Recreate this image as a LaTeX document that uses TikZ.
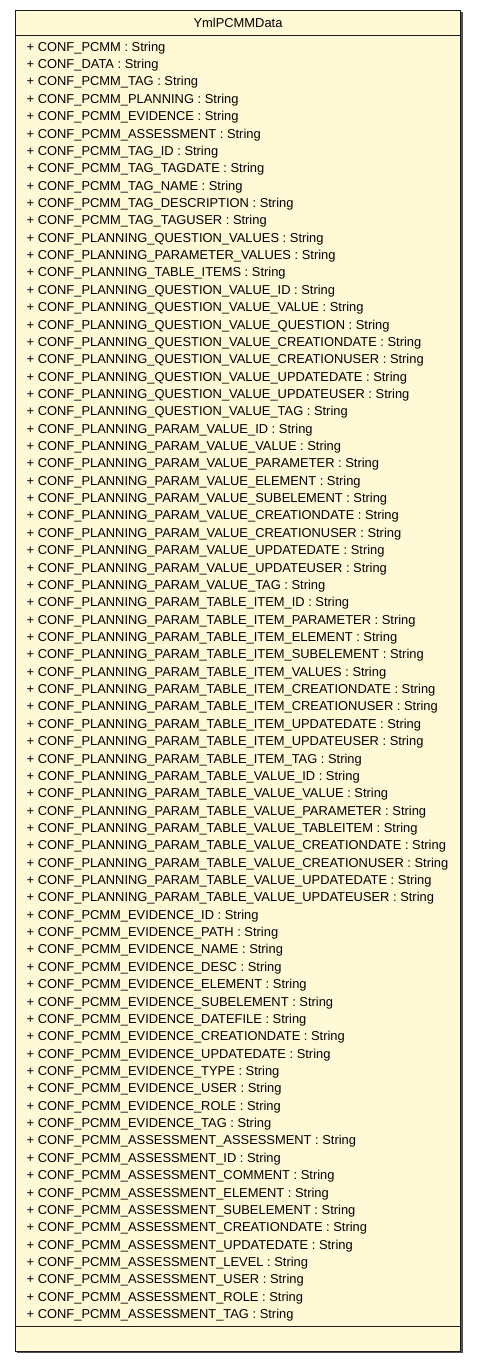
\documentclass[tikz,border=0pt]{standalone}
\usepackage{fontspec}
\setmainfont{Liberation Sans}
\definecolor{umlfill}{RGB}{255,249,214}
\definecolor{umlline}{RGB}{30,30,30}
\definecolor{umlshadow}{RGB}{80,80,80}
\begin{document}
\begin{tikzpicture}[x=1pt,y=1pt,
  attr/.style={anchor=west,inner sep=0pt,font=\fontsize{12.9}{14}\selectfont,text=black},
  ttl/.style={inner sep=0pt,font=\fontsize{12.9}{14}\selectfont,text=black},
  classbox/.style={draw=umlline,line width=1pt,fill=umlfill},
  sep/.style={draw=umlline,line width=1pt}]
\useasboundingbox (0,0) rectangle (477,-1363);
% shadow
\fill[umlshadow] (17,-1350) rectangle (462.5,-1353);
\fill[umlshadow] (460,-12) rectangle (462.5,-1353);
% box
\path[classbox] (15.5,-10.5) rectangle (460.5,-1351);
\coordinate (s1l) at (15.5,-35.5);
\coordinate (s1r) at (460.5,-35.5);
\coordinate (s2l) at (15.5,-1326.5);
\coordinate (s2r) at (460.5,-1326.5);
\draw[sep] (s1l) -- (s1r);
\draw[sep] (s2l) -- (s2r);
\node[ttl] (title) at (238,-22.5) {YmlPCMMData};
\foreach \t [count=\i] in {
CONF\_PCMM,
CONF\_DATA,
CONF\_PCMM\_TAG,
CONF\_PCMM\_PLANNING,
CONF\_PCMM\_EVIDENCE,
CONF\_PCMM\_ASSESSMENT,
CONF\_PCMM\_TAG\_ID,
CONF\_PCMM\_TAG\_TAGDATE,
CONF\_PCMM\_TAG\_NAME,
CONF\_PCMM\_TAG\_DESCRIPTION,
CONF\_PCMM\_TAG\_TAGUSER,
CONF\_PLANNING\_QUESTION\_VALUES,
CONF\_PLANNING\_PARAMETER\_VALUES,
CONF\_PLANNING\_TABLE\_ITEMS,
CONF\_PLANNING\_QUESTION\_VALUE\_ID,
CONF\_PLANNING\_QUESTION\_VALUE\_VALUE,
CONF\_PLANNING\_QUESTION\_VALUE\_QUESTION,
CONF\_PLANNING\_QUESTION\_VALUE\_CREATIONDATE,
CONF\_PLANNING\_QUESTION\_VALUE\_CREATIONUSER,
CONF\_PLANNING\_QUESTION\_VALUE\_UPDATEDATE,
CONF\_PLANNING\_QUESTION\_VALUE\_UPDATEUSER,
CONF\_PLANNING\_QUESTION\_VALUE\_TAG,
CONF\_PLANNING\_PARAM\_VALUE\_ID,
CONF\_PLANNING\_PARAM\_VALUE\_VALUE,
CONF\_PLANNING\_PARAM\_VALUE\_PARAMETER,
CONF\_PLANNING\_PARAM\_VALUE\_ELEMENT,
CONF\_PLANNING\_PARAM\_VALUE\_SUBELEMENT,
CONF\_PLANNING\_PARAM\_VALUE\_CREATIONDATE,
CONF\_PLANNING\_PARAM\_VALUE\_CREATIONUSER,
CONF\_PLANNING\_PARAM\_VALUE\_UPDATEDATE,
CONF\_PLANNING\_PARAM\_VALUE\_UPDATEUSER,
CONF\_PLANNING\_PARAM\_VALUE\_TAG,
CONF\_PLANNING\_PARAM\_TABLE\_ITEM\_ID,
CONF\_PLANNING\_PARAM\_TABLE\_ITEM\_PARAMETER,
CONF\_PLANNING\_PARAM\_TABLE\_ITEM\_ELEMENT,
CONF\_PLANNING\_PARAM\_TABLE\_ITEM\_SUBELEMENT,
CONF\_PLANNING\_PARAM\_TABLE\_ITEM\_VALUES,
CONF\_PLANNING\_PARAM\_TABLE\_ITEM\_CREATIONDATE,
CONF\_PLANNING\_PARAM\_TABLE\_ITEM\_CREATIONUSER,
CONF\_PLANNING\_PARAM\_TABLE\_ITEM\_UPDATEDATE,
CONF\_PLANNING\_PARAM\_TABLE\_ITEM\_UPDATEUSER,
CONF\_PLANNING\_PARAM\_TABLE\_ITEM\_TAG,
CONF\_PLANNING\_PARAM\_TABLE\_VALUE\_ID,
CONF\_PLANNING\_PARAM\_TABLE\_VALUE\_VALUE,
CONF\_PLANNING\_PARAM\_TABLE\_VALUE\_PARAMETER,
CONF\_PLANNING\_PARAM\_TABLE\_VALUE\_TABLEITEM,
CONF\_PLANNING\_PARAM\_TABLE\_VALUE\_CREATIONDATE,
CONF\_PLANNING\_PARAM\_TABLE\_VALUE\_CREATIONUSER,
CONF\_PLANNING\_PARAM\_TABLE\_VALUE\_UPDATEDATE,
CONF\_PLANNING\_PARAM\_TABLE\_VALUE\_UPDATEUSER,
CONF\_PCMM\_EVIDENCE\_ID,
CONF\_PCMM\_EVIDENCE\_PATH,
CONF\_PCMM\_EVIDENCE\_NAME,
CONF\_PCMM\_EVIDENCE\_DESC,
CONF\_PCMM\_EVIDENCE\_ELEMENT,
CONF\_PCMM\_EVIDENCE\_SUBELEMENT,
CONF\_PCMM\_EVIDENCE\_DATEFILE,
CONF\_PCMM\_EVIDENCE\_CREATIONDATE,
CONF\_PCMM\_EVIDENCE\_UPDATEDATE,
CONF\_PCMM\_EVIDENCE\_TYPE,
CONF\_PCMM\_EVIDENCE\_USER,
CONF\_PCMM\_EVIDENCE\_ROLE,
CONF\_PCMM\_EVIDENCE\_TAG,
CONF\_PCMM\_ASSESSMENT\_ASSESSMENT,
CONF\_PCMM\_ASSESSMENT\_ID,
CONF\_PCMM\_ASSESSMENT\_COMMENT,
CONF\_PCMM\_ASSESSMENT\_ELEMENT,
CONF\_PCMM\_ASSESSMENT\_SUBELEMENT,
CONF\_PCMM\_ASSESSMENT\_CREATIONDATE,
CONF\_PCMM\_ASSESSMENT\_UPDATEDATE,
CONF\_PCMM\_ASSESSMENT\_LEVEL,
CONF\_PCMM\_ASSESSMENT\_USER,
CONF\_PCMM\_ASSESSMENT\_ROLE,
CONF\_PCMM\_ASSESSMENT\_TAG}
{
  \node[attr] (a\i) at (26.5,{-47.9-17.36*(\i-1)}) {+ \t\ : String};
}
\end{tikzpicture}
\end{document}
